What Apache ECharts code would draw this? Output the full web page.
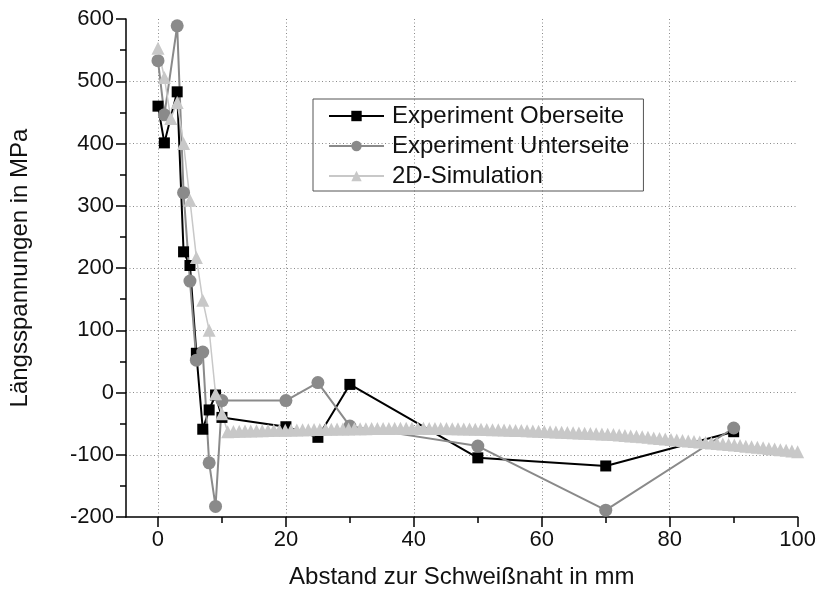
<!DOCTYPE html>
<html><head><meta charset="utf-8">
<script src="https://cdn.jsdelivr.net/npm/echarts@6/dist/echarts.min.js"></script>
<style>html,body{margin:0;padding:0;background:#fff}#c{width:819px;height:595px}</style>
</head><body><div id="c"></div>
<script>
// ---- data ----
const seriesNames = ['Experiment Oberseite', 'Experiment Unterseite', '2D-Simulation'];
const obX = [0, 1, 3, 4, 5, 6, 7, 8, 9, 10, 20, 25, 30, 50, 70, 90];
const obY = [460, 401, 483, 226, 204, 63, -59, -28, -4, -40, -55, -72, 13, -105, -118, -63];
const unX = [0, 1, 3, 4, 5, 6, 7, 8, 9, 10, 20, 25, 30, 50, 70, 90];
const unY = [533, 446, 589, 321, 179, 52, 65, -113, -183, -13, -13, 16, -54, -86, -189, -57];
const simX = [0, 1, 2, 3, 4, 5, 6, 7, 8, 9, 10,
  10.9, 11.8, 12.7, 13.6, 14.5, 15.4, 16.3, 17.2, 18.1, 19.0,
  19.9, 20.8, 21.7, 22.6, 23.5, 24.4, 25.3, 26.2, 27.1, 28.0,
  28.9, 29.8, 30.7, 31.6, 32.5, 33.4, 34.3, 35.2, 36.1, 37.0,
  37.9, 38.8, 39.7, 40.6, 41.5, 42.4, 43.3, 44.2, 45.1, 46.0,
  46.9, 47.8, 48.7, 49.6, 50.5, 51.4, 52.3, 53.2, 54.1, 55.0,
  55.9, 56.8, 57.7, 58.6, 59.5, 60.4, 61.3, 62.2, 63.1, 64.0,
  64.9, 65.8, 66.7, 67.6, 68.5, 69.4, 70.3, 71.2, 72.1, 73.0,
  73.9, 74.8, 75.7, 76.6, 77.5, 78.4, 79.3, 80.2, 81.1, 82.0,
  82.9, 83.8, 84.7, 85.6, 86.5, 87.4, 88.3, 89.2, 90.1, 91.0,
  91.9, 92.8, 93.7, 94.6, 95.5, 96.4, 97.3, 98.2, 99.1, 100.0];
const simY = [553, 506, 440, 466, 400, 309, 217, 148, 100, -2, -34,
  -63, -62.5, -62.3, -62, -61.8, -61.5, -61.3, -61, -60.8, -60.6,
  -60.5, -60.3, -60.1, -59.9, -59.7, -59.5, -59.3, -59.1, -58.9, -58.8,
  -58.6, -58.5, -58.4, -58.2, -58.1, -58, -57.9, -57.8, -57.7, -57.6,
  -57.6, -57.5, -57.5, -57.5, -57.6, -57.7, -57.8, -57.9, -58, -58.2,
  -58.4, -58.6, -58.8, -59, -59.2, -59.5, -59.7, -60, -60.3, -60.5,
  -60.9, -61.2, -61.6, -62, -62.3, -62.7, -63, -63.4, -63.8, -64.2,
  -64.5, -64.9, -65.3, -65.7, -66.1, -66.5, -67, -67.6, -68.3, -69,
  -69.7, -70.4, -71.2, -72, -72.9, -73.8, -74.7, -75.6, -76.4, -77.2,
  -78, -78.8, -79.6, -80.4, -81.2, -82, -82.8, -83.6, -84.4, -85.3,
  -86.2, -87.1, -88, -88.9, -89.9, -90.9, -91.9, -92.9, -94, -95];
const xMajorTicks = [0, 20, 40, 60, 80, 100];
const xMinorTicks = [10, 30, 50, 70, 90];
const xTitle = 'Abstand zur Schweißnaht in mm';
const yTitle = 'Längsspannungen in MPa';

// ---- chart ----
const FONT = '"Liberation Sans", Arial, sans-serif';
const zip = (xs, ys) => xs.map((x, i) => [x, ys[i]]);
const chart = echarts.init(document.getElementById('c'), null, { renderer: 'canvas' });
const axisLineStyle = { color: '#000', width: 1.5 };
const gridLineStyle = { color: '#8a8a8a', width: 1, type: [1, 2.5] };

chart.setOption({
  animation: false,
  backgroundColor: '#fff',
  grid: { left: 123, right: 21, top: 19, bottom: 78 },
  legend: {
    orient: 'vertical', left: 313, top: 99,
    padding: [5, 14, 3, 15], itemGap: 6, itemWidth: 55, itemHeight: 13,
    borderColor: '#555', borderWidth: 1,
    textStyle: { fontSize: 24, fontFamily: FONT, color: '#111', padding: [0, 0, 0, 3] },
    data: seriesNames
  },
  xAxis: [{
    type: 'value', min: -5, max: 100, position: 'bottom',
    axisLine: { show: true, onZero: false, lineStyle: axisLineStyle },
    axisTick: { show: true, customValues: xMajorTicks, length: 10, lineStyle: axisLineStyle },
    axisLabel: { customValues: xMajorTicks, margin: 12, fontSize: 22, fontFamily: FONT, color: '#111' },
    splitLine: { show: true, showMaxLine: false, lineStyle: gridLineStyle },
    name: xTitle, nameLocation: 'middle', nameGap: 48,
    nameTextStyle: { fontSize: 24, fontFamily: FONT, color: '#111' }
  }, {
    type: 'value', min: -5, max: 100, position: 'bottom',
    axisLine: { show: false, onZero: false },
    axisTick: { show: true, customValues: xMinorTicks, length: 6, lineStyle: axisLineStyle },
    axisLabel: { show: false },
    splitLine: { show: false }
  }],
  yAxis: {
    type: 'value', min: -200, max: 600, interval: 100,
    axisLine: { show: true, onZero: false, lineStyle: axisLineStyle },
    axisTick: { show: true, length: 10, lineStyle: axisLineStyle },
    minorTick: { show: true, splitNumber: 2, length: 6, lineStyle: axisLineStyle },
    axisLabel: { margin: 12, fontSize: 22, fontFamily: FONT, color: '#111' },
    splitLine: { show: true, showMinLine: false, showMaxLine: false, lineStyle: gridLineStyle },
    name: yTitle, nameLocation: 'middle', nameGap: 94, nameRotate: 90,
    nameTextStyle: { fontSize: 24, fontFamily: FONT, color: '#111' }
  },
  series: [{
    name: seriesNames[0], type: 'line', xAxisIndex: 0,
    data: zip(obX, obY),
    symbol: 'rect', symbolSize: 11,
    itemStyle: { color: '#000' },
    lineStyle: { color: '#000', width: 2 }
  }, {
    name: seriesNames[1], type: 'line', xAxisIndex: 0,
    data: zip(unX, unY),
    symbol: 'circle', symbolSize: 13,
    itemStyle: { color: '#8a8a8a' },
    lineStyle: { color: '#8a8a8a', width: 2 }
  }, {
    name: seriesNames[2], type: 'line', xAxisIndex: 0,
    data: zip(simX, simY),
    symbol: 'triangle', symbolSize: 13,
    itemStyle: { color: '#c8c8c8' },
    lineStyle: { color: '#c8c8c8', width: 1.5 }
  }]
});
</script>
</body></html>
